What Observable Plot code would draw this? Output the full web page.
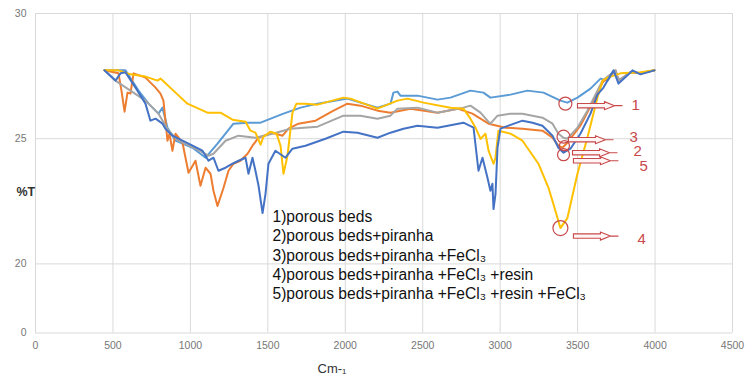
<!DOCTYPE html>
<html>
<head>
<meta charset="utf-8">
<script src="https://cdn.jsdelivr.net/npm/d3@7"></script>
<script src="https://cdn.jsdelivr.net/npm/@observablehq/plot@0.6"></script>
<style>
  body { margin: 0; background: #fff; }
  #chart svg { display: block; }
</style>
</head>
<body>
<div id="chart"></div>
<script>
// ---- data (wavenumber cm-1, %T) ----
const seriesNames = ["1)porous beds", "2)porous beds+piranha", "3)porous beds+piranha +FeCl3", "4)porous beds+piranha +FeCl3 +resin", "5)porous beds+piranha +FeCl3 +resin +FeCl3"];
const seriesColors = ["#5B9BD5", "#ED7D31", "#A5A5A5", "#FFC000", "#4472C4"];

const wn1 = [445, 581, 665, 730, 794, 820, 852, 904, 1014, 1098, 1175, 1278, 1369, 1453, 1601, 1711, 1821, 2014, 2098, 2208, 2292, 2311, 2337, 2356, 2466, 2595, 2679, 2808, 2892, 2937, 3067, 3176, 3280, 3389, 3434, 3499, 3583, 3648, 3693, 3732, 3777, 3841, 3906, 3996];
const t1  = [27.73, 27.73, 26.92, 26.40, 26.00, 26.24, 25.44, 24.92, 24.64, 24.24, 24.80, 25.60, 25.64, 25.64, 26.00, 26.24, 26.40, 26.60, 26.44, 26.24, 26.40, 26.84, 26.88, 26.72, 26.72, 26.56, 26.64, 26.92, 26.84, 26.64, 26.76, 26.92, 26.84, 26.52, 26.44, 26.64, 27.00, 27.40, 27.32, 27.65, 27.32, 27.65, 27.61, 27.73];

const wn2 = [445, 536, 555, 575, 594, 613, 633, 710, 775, 807, 826, 852, 865, 884, 904, 949, 988, 1033, 1065, 1098, 1130, 1149, 1175, 1214, 1246, 1278, 1323, 1369, 1401, 1440, 1530, 1595, 1633, 1698, 1808, 1924, 2014, 2098, 2208, 2292, 2421, 2595, 2725, 2821, 2925, 3034, 3144, 3273, 3338, 3376, 3402, 3434, 3518, 3603, 3661, 3745, 3764, 3841, 3906, 3996];
const t2  = [27.73, 27.61, 26.92, 26.08, 26.84, 26.80, 27.61, 27.44, 27.04, 26.80, 26.52, 24.92, 25.20, 24.52, 25.20, 24.84, 23.64, 24.12, 23.12, 23.84, 23.60, 22.92, 22.31, 23.04, 23.72, 24.00, 24.12, 24.40, 24.72, 25.04, 25.24, 25.12, 25.40, 25.60, 25.72, 26.12, 26.40, 26.32, 26.12, 26.04, 26.20, 26.04, 26.20, 26.00, 25.60, 25.44, 25.40, 25.32, 25.04, 24.72, 24.64, 24.84, 25.52, 26.52, 27.24, 27.73, 27.32, 27.65, 27.61, 27.73];

const wn3 = [445, 516, 710, 794, 859, 923, 1033, 1117, 1149, 1227, 1311, 1420, 1530, 1646, 1821, 1988, 2098, 2208, 2292, 2337, 2466, 2595, 2763, 2808, 2873, 2918, 2937, 2983, 3067, 3144, 3273, 3338, 3376, 3409, 3434, 3499, 3563, 3628, 3661, 3745, 3764, 3841, 3906, 3996];
const t3  = [27.73, 27.32, 26.52, 26.00, 25.32, 24.92, 24.60, 24.32, 24.40, 24.92, 25.12, 25.04, 25.20, 25.40, 25.48, 25.92, 25.92, 25.80, 25.92, 26.20, 26.24, 26.04, 26.24, 26.32, 26.04, 25.72, 25.60, 25.92, 26.00, 26.00, 25.84, 25.60, 25.20, 25.04, 25.00, 25.44, 26.12, 26.92, 27.32, 27.73, 27.32, 27.65, 27.61, 27.73];

const wn4 = [445, 536, 613, 710, 788, 807, 904, 981, 1110, 1194, 1272, 1356, 1388, 1420, 1453, 1472, 1517, 1556, 1582, 1601, 1627, 1659, 1685, 1743, 1821, 1988, 2034, 2208, 2337, 2402, 2505, 2679, 2763, 2808, 2841, 2873, 2905, 2925, 2957, 2970, 2989, 3067, 3144, 3247, 3312, 3357, 3389, 3434, 3499, 3563, 3628, 3661, 3693, 3777, 3906, 3996];
const t4  = [27.73, 27.73, 27.57, 27.48, 27.32, 27.40, 26.84, 26.40, 26.04, 26.04, 25.76, 25.68, 25.32, 25.24, 24.76, 25.08, 25.28, 25.20, 24.72, 23.60, 24.32, 26.04, 26.40, 26.40, 26.36, 26.64, 26.60, 26.20, 26.52, 26.60, 26.44, 26.24, 26.20, 25.80, 25.44, 24.99, 25.20, 24.52, 24.00, 24.24, 25.32, 25.20, 24.92, 24.00, 23.04, 22.11, 21.43, 21.83, 23.60, 25.04, 26.64, 27.32, 27.44, 27.61, 27.65, 27.73];

const wn5 = [445, 516, 549, 581, 646, 710, 742, 775, 820, 839, 884, 949, 1014, 1078, 1117, 1149, 1181, 1227, 1272, 1311, 1356, 1375, 1401, 1420, 1440, 1466, 1485, 1504, 1549, 1595, 1614, 1659, 1743, 1872, 1988, 2079, 2208, 2292, 2376, 2466, 2595, 2763, 2828, 2860, 2886, 2918, 2937, 2950, 2957, 2970, 2983, 3002, 3054, 3144, 3209, 3273, 3338, 3376, 3409, 3454, 3518, 3583, 3628, 3667, 3732, 3764, 3822, 3854, 3906, 3996];
const t5  = [27.73, 27.32, 27.61, 27.65, 27.04, 26.40, 25.72, 25.80, 25.60, 25.40, 25.12, 24.92, 24.72, 24.52, 24.12, 24.24, 23.72, 23.84, 24.00, 24.12, 24.24, 23.60, 24.24, 23.72, 23.12, 22.03, 22.80, 24.00, 24.52, 24.32, 24.24, 24.60, 24.72, 25.00, 25.28, 25.24, 25.04, 25.24, 25.40, 25.52, 25.44, 25.64, 25.44, 23.72, 24.24, 23.44, 22.92, 23.20, 22.19, 22.80, 24.64, 25.40, 25.52, 25.72, 25.64, 25.52, 25.12, 24.64, 24.44, 24.60, 25.20, 26.00, 26.76, 27.04, 27.73, 27.20, 27.53, 27.73, 27.57, 27.73];

// axis ticks
const xTicks = [0, 500, 1000, 1500, 2000, 2500, 3000, 3500, 4000, 4500];
const yTicks = [0, 20, 25, 30];

// annotations (circles, arrows, numbers)
const markLabels = ["1", "3", "2", "5", "4"];
const circleX = [3421, 3409, 3415, 3409, 3389];
const circleY = [26.40, 25.08, 24.72, 24.36, 21.43];
const circleR = [6.5, 6.5, 5, 6, 7.5];
const arrowX = [3499, 3441, 3467, 3473, 3473];
const arrowY = [26.32, 24.96, 24.44, 24.12, 21.11];
const numX = [3848, 3835, 3861, 3899, 3886];
const numY = [26.32, 25.08, 24.50, 23.90, 20.99];

// ---- build tables ----
const wns = [wn1, wn2, wn3, wn4, wn5];
const ts = [t1, t2, t3, t4, t5];
const rows = seriesNames.flatMap((s, i) => wns[i].map((w, j) => ({s, x: w, y: ts[i][j]})));
const circles = markLabels.map((l, i) => ({l, x: circleX[i], y: circleY[i], r: circleR[i]}));
const arrows = markLabels.map((l, i) => ({l, x: arrowX[i], y: arrowY[i]}));
const nums = markLabels.map((l, i) => ({l, x: numX[i], y: numY[i]}));

// broken y axis: 0..20 compressed, 20..30 linear
const yBreak = v => v >= 20 ? v : 20 - (20 - v) * 2.76 / 20;

const red = "#C8494B";
const blockArrow = {
  draw(ctx) {
    ctx.moveTo(0, -2.2); ctx.lineTo(27, -2.2); ctx.lineTo(27, -4);
    ctx.lineTo(37, 0); ctx.lineTo(27, 4); ctx.lineTo(27, 2.2);
    ctx.lineTo(0, 2.2); ctx.closePath();
    ctx.moveTo(37, 0); ctx.lineTo(45, 0);
  }
};

const legendText = seriesNames.map(s => s.replace(/FeCl3/g, "FeCl\u2083")).join("\n");

const chart = Plot.plot({
  width: 753,
  height: 385,
  marginLeft: 35, marginRight: 21, marginTop: 13, marginBottom: 52.5,
  style: {fontFamily: "'Liberation Sans', Arial, sans-serif", background: "#fff"},
  x: {domain: [0, 4500]},
  y: {transform: yBreak, domain: [yBreak(0), 30]},
  color: {domain: seriesNames, range: seriesColors},
  r: {type: "identity"},
  marks: [
    Plot.gridX(xTicks, {stroke: "#d9d9d9", strokeOpacity: 1}),
    Plot.gridY(yTicks, {stroke: "#d9d9d9", strokeOpacity: 1}),
    Plot.axisX(xTicks, {tickSize: 0, tickPadding: 9, tickFormat: d3.format("d"), fill: "#777", fontSize: 10.5, label: null}),
    Plot.axisY(yTicks, {tickSize: 0, tickPadding: 9, fill: "#777", fontSize: 10.5, label: null}),
    Plot.line(rows, {x: "x", y: "y", z: "s", stroke: "s", strokeWidth: 2, strokeLinejoin: "round"}),
    Plot.dot(circles, {x: "x", y: "y", r: "r", stroke: red, strokeWidth: 1.2, fill: "none"}),
    Plot.dot(arrows, {x: "x", y: "y", symbol: blockArrow, stroke: red, strokeWidth: 1.1, fill: "#fff5f5"}),
    Plot.text(nums, {x: "x", y: "y", text: "l", fill: red, fontSize: 15, textAnchor: "start"}),
    Plot.text([legendText], {x: 1530, y: 22.22, text: d => d, textAnchor: "start", lineAnchor: "top", lineHeight: 1.24, fontSize: 15.6, fill: "#111"}),
    Plot.text(["%T"], {frameAnchor: "left", dx: -19, dy: 19, text: d => d, fontSize: 12.5, fontWeight: "bold", fill: "#333"}),
    Plot.text(["Cm-\u2081"], {frameAnchor: "bottom", dx: -52, dy: 40, text: d => d, fontSize: 13, fill: "#333"})
  ]
});
document.getElementById("chart").appendChild(chart);
</script>
</body>
</html>
